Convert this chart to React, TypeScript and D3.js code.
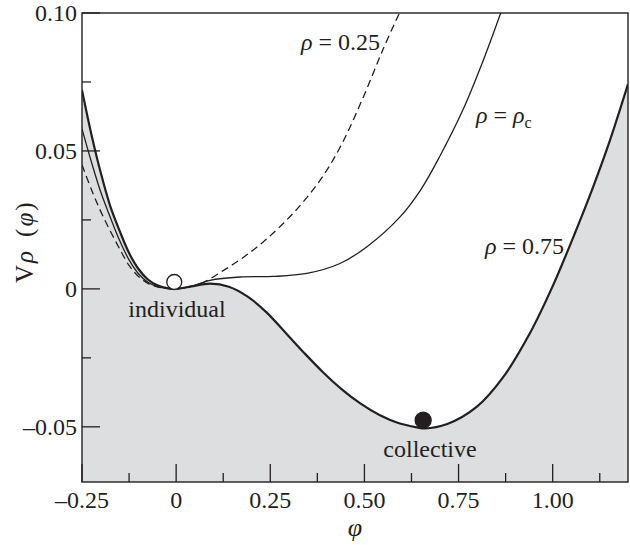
import React, { useRef, useEffect } from 'react';
import * as d3 from 'd3';

// values: phi and V_rho(phi) for each density
const phiHigh = [-0.25, -0.225, -0.2, -0.175, -0.15, -0.125, -0.1, -0.075, -0.05, -0.025, 0, 0.04, 0.09, 0.14, 0.19, 0.24, 0.29, 0.34, 0.39, 0.44, 0.49, 0.54, 0.59, 0.64, 0.66, 0.72, 0.798, 0.869, 0.939, 1.0, 1.054, 1.107, 1.152, 1.2];
const vHigh = [0.072, 0.056, 0.042, 0.03, 0.021, 0.013, 0.0072, 0.0034, 0.0013, 0.0003, 0, 0.0009, 0.0019, 0.0008, -0.0028, -0.0085, -0.0158, -0.0232, -0.0302, -0.0364, -0.0416, -0.0457, -0.0486, -0.0502, -0.0506, -0.049, -0.0428, -0.0319, -0.0162, 0.001, 0.0185, 0.0368, 0.0538, 0.0742];

const phiCrit = [-0.25, -0.225, -0.2, -0.175, -0.15, -0.125, -0.1, -0.075, -0.05, -0.025, 0, 0.04, 0.09, 0.17, 0.258, 0.347, 0.435, 0.506, 0.594, 0.65, 0.7, 0.762, 0.816, 0.862];
const vCrit = [0.058, 0.046, 0.035, 0.026, 0.0175, 0.0105, 0.0055, 0.0024, 0.0008, 0.0002, 0, 0.0009, 0.0031, 0.0043, 0.0045, 0.0056, 0.0092, 0.0152, 0.026, 0.036, 0.048, 0.065, 0.083, 0.1];

const phiLow = [-0.25, -0.225, -0.2, -0.175, -0.15, -0.125, -0.1, -0.075, -0.05, -0.025, 0, 0.035, 0.073, 0.126, 0.179, 0.232, 0.285, 0.338, 0.391, 0.44, 0.497, 0.55, 0.593];
const vLow = [0.045, 0.036, 0.028, 0.021, 0.0145, 0.0085, 0.0045, 0.002, 0.0007, 0.0002, 0, 0.0007, 0.0024, 0.0067, 0.0115, 0.0171, 0.0238, 0.0316, 0.0411, 0.0525, 0.0695, 0.087, 0.1];

const xMajor = [-0.25, 0, 0.25, 0.5, 0.75, 1.0];
const xMajorLabels = ['\u20130.25', '0', '0.25', '0.50', '0.75', '1.00'];
const xMinor = [-0.125, 0.125, 0.375, 0.625, 0.875, 1.125];
const yMajor = [-0.05, 0, 0.05, 0.1];
const yMajorLabels = ['\u20130.05', '0', '0.05', '0.10'];
const yMinor = [-0.025, 0.025, 0.075];

// the two marked states
const states = [
  { name: 'individual', phi: -0.005, v: 0.0025, filled: false },
  { name: 'collective', phi: 0.656, v: -0.0476, filled: true },
];

const INK = '#231f20';
const FONT = '"Liberation Serif", "Times New Roman", serif';

function App() {
  const svgRef = useRef<SVGSVGElement>(null);

  useEffect(() => {
    const svg = d3.select(svgRef.current);
    svg.selectAll('*').remove();

    const left = 82, right = 628, top = 13, bottom = 482;
    const x = d3.scaleLinear().domain([-0.25, 1.2]).range([left, right]);
    const y = d3.scaleLinear().domain([-0.07, 0.1]).range([bottom, top]);

    svg.append('defs').append('clipPath').attr('id', 'plot')
      .append('rect')
      .attr('x', left).attr('y', top)
      .attr('width', right - left).attr('height', bottom - top);

    const g = svg.append('g').attr('clip-path', 'url(#plot)');

    const zip = (xs: number[], vs: number[]) => xs.map((p, i) => [p, vs[i]] as [number, number]);
    const high = zip(phiHigh, vHigh);
    const crit = zip(phiCrit, vCrit);
    const low = zip(phiLow, vLow);

    const smooth = d3.curveCatmullRom.alpha(0.5);

    const area = d3.area<[number, number]>()
      .x(d => x(d[0]))
      .y0(bottom)
      .y1(d => y(d[1]))
      .curve(smooth);

    g.append('path').attr('d', area(high)).attr('fill', '#dddee0');

    const line = d3.line<[number, number]>()
      .x(d => x(d[0]))
      .y(d => y(d[1]))
      .curve(smooth);

    g.append('path').attr('d', line(low))
      .attr('fill', 'none').attr('stroke', INK)
      .attr('stroke-width', 1.3).attr('stroke-dasharray', '7.5,4.5');

    g.append('path').attr('d', line(crit))
      .attr('fill', 'none').attr('stroke', INK).attr('stroke-width', 1.3);

    g.append('path').attr('d', line(high))
      .attr('fill', 'none').attr('stroke', INK).attr('stroke-width', 2.2);

    // ticks point inward
    const ticks = svg.append('g').attr('stroke', INK).attr('stroke-width', 1.3);
    xMajor.forEach(t => ticks.append('line')
      .attr('x1', x(t)).attr('x2', x(t)).attr('y1', bottom).attr('y2', bottom - 18));
    xMinor.forEach(t => ticks.append('line')
      .attr('x1', x(t)).attr('x2', x(t)).attr('y1', bottom).attr('y2', bottom - 9));
    yMajor.forEach(t => ticks.append('line')
      .attr('x1', left).attr('x2', left + 18).attr('y1', y(t)).attr('y2', y(t)));
    yMinor.forEach(t => ticks.append('line')
      .attr('x1', left).attr('x2', left + 9).attr('y1', y(t)).attr('y2', y(t)));

    svg.append('rect')
      .attr('x', left).attr('y', top)
      .attr('width', right - left).attr('height', bottom - top)
      .attr('fill', 'none').attr('stroke', INK).attr('stroke-width', 1.4);

    const txt = svg.append('g').attr('font-family', FONT).attr('font-size', 24).attr('fill', INK);

    xMajor.forEach((t, i) => txt.append('text')
      .attr('x', x(t)).attr('y', bottom + 26)
      .attr('text-anchor', 'middle').text(xMajorLabels[i]));

    yMajor.forEach((t, i) => txt.append('text')
      .attr('x', left - 5).attr('y', y(t)).attr('dy', '0.35em')
      .attr('text-anchor', 'end').text(yMajorLabels[i]));

    // markers and their names
    states.forEach(s => {
      svg.append('circle')
        .attr('cx', x(s.phi)).attr('cy', y(s.v)).attr('r', s.filled ? 8 : 7.5)
        .attr('fill', s.filled ? INK : '#fff')
        .attr('stroke', INK).attr('stroke-width', 1.3);
    });
    txt.append('text').attr('x', 177).attr('y', 317).attr('text-anchor', 'middle').text('individual');
    txt.append('text').attr('x', 430).attr('y', 457).attr('text-anchor', 'middle').text('collective');

    // curve labels
    const lab = (xx: number, yy: number, anchor: string, rest: string, sub?: string) => {
      const t = txt.append('text').attr('x', xx).attr('y', yy).attr('text-anchor', anchor);
      t.append('tspan').attr('font-style', 'italic').text('\u03c1');
      t.append('tspan').text(' = ');
      t.append('tspan').attr('font-style', sub ? 'italic' : 'normal').text(rest);
      if (sub) t.append('tspan').attr('font-size', 16).attr('dy', 5).text(sub);
    };
    lab(380, 50, 'end', '0.25');
    lab(476, 123, 'start', '\u03c1', 'c');
    lab(485, 254, 'start', '0.75');

    // axis titles
    txt.append('text')
      .attr('x', (left + right) / 2).attr('y', 536)
      .attr('font-size', 26)
      .attr('text-anchor', 'middle').attr('font-style', 'italic').text('\u03c6');

    const yt = txt.append('text')
      .attr('transform', `translate(33, 283) rotate(-90)`)
      .attr('font-size', 25)
      .attr('letter-spacing', 2)
      .attr('text-anchor', 'start');
    yt.append('tspan').text('V');
    yt.append('tspan').attr('font-style', 'italic').text('\u03c1');
    yt.append('tspan').attr('dx', 12).text('(');
    yt.append('tspan').attr('font-style', 'italic').text('\u03c6');
    yt.append('tspan').text(')');
  }, []);

  return (
    <svg ref={svgRef} width={630} height={545}
      style={{ position: 'absolute', left: 0, top: 0, background: '#fff' }} />
  );
}

export default App;
